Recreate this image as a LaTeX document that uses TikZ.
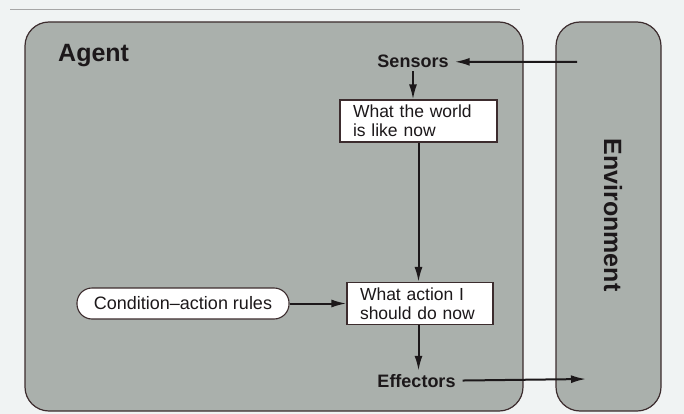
\documentclass[tikz,border=0pt]{standalone}
\usepackage{fontspec}
\setmainfont{Liberation Sans}
\usetikzlibrary{arrows.meta}

\definecolor{paper}{RGB}{240,243,243}
\definecolor{panel}{RGB}{170,176,172}
\definecolor{ink}{RGB}{28,24,26}
\definecolor{rim}{RGB}{60,44,46}

\tikzset{
  panelbox/.style={draw=rim, line width=1.2pt, fill=panel, rounded corners=24pt},
  heading/.style={font=\fontsize{25}{28}\selectfont\bfseries, text=ink, inner sep=0pt},
  portlabel/.style={font=\fontsize{18}{20}\selectfont\bfseries, text=ink, inner sep=3pt},
  statebox/.style={draw=rim, line width=1.1pt, fill=white, align=left, inner xsep=13pt,
    inner ysep=0pt, minimum height=42pt, text=ink,
    font=\fontsize{17.5}{19}\selectfont},
  rulebox/.style={draw=rim, line width=1.1pt, fill=white, rounded corners=15pt,
    minimum width=212pt, minimum height=31pt, inner sep=0pt, text=ink,
    font=\fontsize{18}{19}\selectfont},
  flow/.style={draw=ink, line width=2pt, -{Latex[length=15pt,width=8pt]}},
}

\begin{document}
\begin{tikzpicture}[x=1pt,y=-1pt]
  % page
  \fill[paper] (0,0) rectangle (684,414);
  \useasboundingbox (0,0) rectangle (684,414);
  \draw[gray!70, line width=1pt] (10,10) -- (520,10);

  % the two panels
  \path[panelbox] (25,22) rectangle (523,411);
  \path[panelbox] (556,22) rectangle (661,411);

  \node[heading, anchor=base west] (agent) at (58,62) {Agent};
  \node[heading, rotate=-90] (env) at (613,215) {Environment};

  % inside the agent
  \node[portlabel, anchor=base] (sensors) at (413,68) {Sensors};
  \node[statebox, text width=131pt] (world) at (418.5,121)
    {What the world\\is like now};
  \node[statebox, text width=120pt] (action) at (420,303.5)
    {What action I\\should do now};
  \node[rulebox] (rules) at (183,303.5) {Condition\textendash action rules};
  \node[portlabel, anchor=base] (effectors) at (416.5,387) {Effectors};

  % connection points on the environment side
  \coordinate (envout) at (577,62);
  \coordinate (envin) at (586,379);

  % connectors
  \draw[flow, shorten >=3pt] (envout) -- (sensors.east);
  \draw[flow] (sensors.south) -- (sensors.south |- world.north);
  \draw[flow] (world.south) -- (world.south |- action.north);
  \draw[flow] (rules.east) -- (action.west);
  \draw[flow] (action.south -| world.south) -- (world.south |- effectors.north);
  \draw[flow, shorten <=4pt] (effectors.east) -- (envin);
\end{tikzpicture}
\end{document}
